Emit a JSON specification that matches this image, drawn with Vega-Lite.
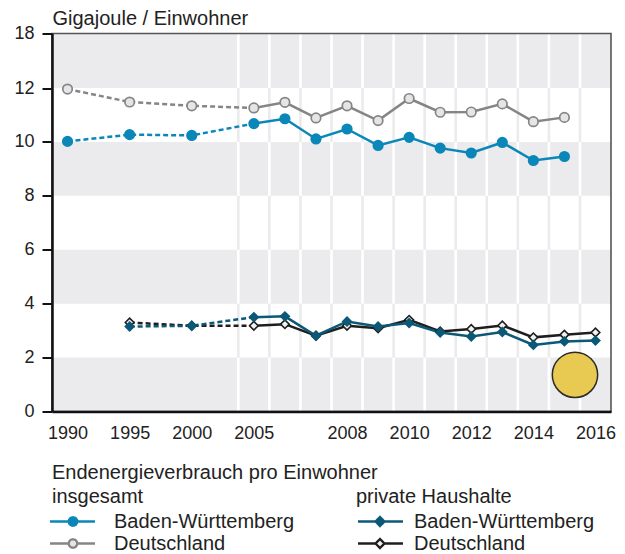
{
  "$schema": "https://vega.github.io/schema/vega-lite/v6.json",
  "width": 559,
  "height": 378,
  "autosize": "none",
  "padding": {"left": 52, "top": 33.5, "right": 14, "bottom": 142.5},
  "background": "white",
  "config": {
    "font": "Liberation Sans",
    "view": {"stroke": null}
  },
  "datasets": {
    "reihen": [
      {"jahr": 1990, "wert": 10.02, "gebiet": "Baden-Württemberg", "bereich": "insgesamt"},
      {"jahr": 1995, "wert": 10.27, "gebiet": "Baden-Württemberg", "bereich": "insgesamt"},
      {"jahr": 2000, "wert": 10.24, "gebiet": "Baden-Württemberg", "bereich": "insgesamt"},
      {"jahr": 2005, "wert": 10.68, "gebiet": "Baden-Württemberg", "bereich": "insgesamt"},
      {"jahr": 2006, "wert": 10.86, "gebiet": "Baden-Württemberg", "bereich": "insgesamt"},
      {"jahr": 2007, "wert": 10.11, "gebiet": "Baden-Württemberg", "bereich": "insgesamt"},
      {"jahr": 2008, "wert": 10.48, "gebiet": "Baden-Württemberg", "bereich": "insgesamt"},
      {"jahr": 2009, "wert": 9.87, "gebiet": "Baden-Württemberg", "bereich": "insgesamt"},
      {"jahr": 2010, "wert": 10.17, "gebiet": "Baden-Württemberg", "bereich": "insgesamt"},
      {"jahr": 2011, "wert": 9.77, "gebiet": "Baden-Württemberg", "bereich": "insgesamt"},
      {"jahr": 2012, "wert": 9.59, "gebiet": "Baden-Württemberg", "bereich": "insgesamt"},
      {"jahr": 2013, "wert": 9.98, "gebiet": "Baden-Württemberg", "bereich": "insgesamt"},
      {"jahr": 2014, "wert": 9.31, "gebiet": "Baden-Württemberg", "bereich": "insgesamt"},
      {"jahr": 2015, "wert": 9.46, "gebiet": "Baden-Württemberg", "bereich": "insgesamt"},
      {"jahr": 1990, "wert": 11.96, "gebiet": "Deutschland", "bereich": "insgesamt"},
      {"jahr": 1995, "wert": 11.48, "gebiet": "Deutschland", "bereich": "insgesamt"},
      {"jahr": 2000, "wert": 11.34, "gebiet": "Deutschland", "bereich": "insgesamt"},
      {"jahr": 2005, "wert": 11.26, "gebiet": "Deutschland", "bereich": "insgesamt"},
      {"jahr": 2006, "wert": 11.47, "gebiet": "Deutschland", "bereich": "insgesamt"},
      {"jahr": 2007, "wert": 10.89, "gebiet": "Deutschland", "bereich": "insgesamt"},
      {"jahr": 2008, "wert": 11.34, "gebiet": "Deutschland", "bereich": "insgesamt"},
      {"jahr": 2009, "wert": 10.79, "gebiet": "Deutschland", "bereich": "insgesamt"},
      {"jahr": 2010, "wert": 11.61, "gebiet": "Deutschland", "bereich": "insgesamt"},
      {"jahr": 2011, "wert": 11.10, "gebiet": "Deutschland", "bereich": "insgesamt"},
      {"jahr": 2012, "wert": 11.11, "gebiet": "Deutschland", "bereich": "insgesamt"},
      {"jahr": 2013, "wert": 11.41, "gebiet": "Deutschland", "bereich": "insgesamt"},
      {"jahr": 2014, "wert": 10.75, "gebiet": "Deutschland", "bereich": "insgesamt"},
      {"jahr": 2015, "wert": 10.91, "gebiet": "Deutschland", "bereich": "insgesamt"},
      {"jahr": 1995, "wert": 3.30, "gebiet": "Deutschland", "bereich": "private Haushalte"},
      {"jahr": 2000, "wert": 3.18, "gebiet": "Deutschland", "bereich": "private Haushalte"},
      {"jahr": 2005, "wert": 3.18, "gebiet": "Deutschland", "bereich": "private Haushalte"},
      {"jahr": 2006, "wert": 3.24, "gebiet": "Deutschland", "bereich": "private Haushalte"},
      {"jahr": 2007, "wert": 2.81, "gebiet": "Deutschland", "bereich": "private Haushalte"},
      {"jahr": 2008, "wert": 3.18, "gebiet": "Deutschland", "bereich": "private Haushalte"},
      {"jahr": 2009, "wert": 3.09, "gebiet": "Deutschland", "bereich": "private Haushalte"},
      {"jahr": 2010, "wert": 3.40, "gebiet": "Deutschland", "bereich": "private Haushalte"},
      {"jahr": 2011, "wert": 2.97, "gebiet": "Deutschland", "bereich": "private Haushalte"},
      {"jahr": 2012, "wert": 3.06, "gebiet": "Deutschland", "bereich": "private Haushalte"},
      {"jahr": 2013, "wert": 3.19, "gebiet": "Deutschland", "bereich": "private Haushalte"},
      {"jahr": 2014, "wert": 2.75, "gebiet": "Deutschland", "bereich": "private Haushalte"},
      {"jahr": 2015, "wert": 2.85, "gebiet": "Deutschland", "bereich": "private Haushalte"},
      {"jahr": 2016, "wert": 2.93, "gebiet": "Deutschland", "bereich": "private Haushalte"},
      {"jahr": 1995, "wert": 3.15, "gebiet": "Baden-Württemberg", "bereich": "private Haushalte"},
      {"jahr": 2000, "wert": 3.18, "gebiet": "Baden-Württemberg", "bereich": "private Haushalte"},
      {"jahr": 2005, "wert": 3.50, "gebiet": "Baden-Württemberg", "bereich": "private Haushalte"},
      {"jahr": 2006, "wert": 3.53, "gebiet": "Baden-Württemberg", "bereich": "private Haushalte"},
      {"jahr": 2007, "wert": 2.81, "gebiet": "Baden-Württemberg", "bereich": "private Haushalte"},
      {"jahr": 2008, "wert": 3.34, "gebiet": "Baden-Württemberg", "bereich": "private Haushalte"},
      {"jahr": 2009, "wert": 3.15, "gebiet": "Baden-Württemberg", "bereich": "private Haushalte"},
      {"jahr": 2010, "wert": 3.28, "gebiet": "Baden-Württemberg", "bereich": "private Haushalte"},
      {"jahr": 2011, "wert": 2.93, "gebiet": "Baden-Württemberg", "bereich": "private Haushalte"},
      {"jahr": 2012, "wert": 2.78, "gebiet": "Baden-Württemberg", "bereich": "private Haushalte"},
      {"jahr": 2013, "wert": 2.95, "gebiet": "Baden-Württemberg", "bereich": "private Haushalte"},
      {"jahr": 2014, "wert": 2.47, "gebiet": "Baden-Württemberg", "bereich": "private Haushalte"},
      {"jahr": 2015, "wert": 2.60, "gebiet": "Baden-Württemberg", "bereich": "private Haushalte"},
      {"jahr": 2016, "wert": 2.63, "gebiet": "Baden-Württemberg", "bereich": "private Haushalte"}
    ],
    "baender": [
      {"von": 0, "bis": 2},
      {"von": 4, "bis": 6},
      {"von": 8, "bis": 10},
      {"von": 12, "bis": 18}
    ],
    "raster": [
      {"jahr": 2004.5}, {"jahr": 2005.5}, {"jahr": 2006.5}, {"jahr": 2007.5},
      {"jahr": 2008.5}, {"jahr": 2009.5}, {"jahr": 2010.5}, {"jahr": 2011.5},
      {"jahr": 2012.5}, {"jahr": 2013.5}, {"jahr": 2014.5}, {"jahr": 2015.5}
    ]
  },
  "data": {"name": "reihen"},
  "layer": [
    {
      "data": {"name": "baender"},
      "mark": {"type": "rect", "color": "#ebebed"},
      "encoding": {
        "x": {
          "datum": 1988.75,
          "type": "quantitative",
          "scale": {"domain": [1988.75, 2000, 2004.5, 2016.5], "range": [0, 139.75, 186.33, 559], "nice": false, "zero": false},
          "axis": {
            "values": [1990, 1995, 2000, 2005, 2008, 2010, 2012, 2014, 2016],
            "format": "d",
            "title": null,
            "grid": false,
            "ticks": false,
            "tickSize": 0,
            "domainColor": "#111111",
            "domainWidth": 2.5,
            "labelPadding": 13,
            "labelFontSize": 18,
            "labelColor": "#222222",
            "labelFlush": false,
            "zindex": 1
          }
        },
        "x2": {"datum": 2016.5},
        "y": {
          "field": "von",
          "type": "quantitative",
          "scale": {"domain": [0, 12, 18], "range": [378, 54.5, 0], "nice": false, "zero": false},
          "axis": {
            "values": [0, 2, 4, 6, 8, 10, 12, 18],
            "title": "Gigajoule / Einwohner",
            "titleAngle": 0,
            "titleAlign": "left",
            "titleBaseline": "alphabetic",
            "titleX": 0,
            "titleY": -9.5,
            "titleFontSize": 20,
            "titleFontWeight": "normal",
            "titleColor": "#222222",
            "grid": false,
            "domainColor": "#111111",
            "domainWidth": 2.5,
            "tickColor": "#111111",
            "tickWidth": 2,
            "tickSize": 10,
            "labelPadding": 8,
            "labelFontSize": 18,
            "labelColor": "#222222",
            "zindex": 1
          }
        },
        "y2": {"field": "bis"}
      }
    },
    {
      "data": {"name": "raster"},
      "mark": {"type": "rule", "color": "#ffffff", "strokeWidth": 2.6},
      "encoding": {
        "x": {"field": "jahr", "type": "quantitative"},
        "y": {"datum": 0, "type": "quantitative"},
        "y2": {"datum": 18}
      }
    },
    {
      "data": {"name": "raster"},
      "mark": {"type": "rule", "color": "#ebebed", "strokeWidth": 2.6},
      "encoding": {
        "x": {"field": "jahr", "type": "quantitative"},
        "y": {"datum": 2, "type": "quantitative"},
        "y2": {"datum": 4}
      }
    },
    {
      "data": {"name": "raster"},
      "mark": {"type": "rule", "color": "#ebebed", "strokeWidth": 2.6},
      "encoding": {
        "x": {"field": "jahr", "type": "quantitative"},
        "y": {"datum": 6, "type": "quantitative"},
        "y2": {"datum": 8}
      }
    },
    {
      "data": {"name": "raster"},
      "mark": {"type": "rule", "color": "#ebebed", "strokeWidth": 2.6},
      "encoding": {
        "x": {"field": "jahr", "type": "quantitative"},
        "y": {"datum": 10, "type": "quantitative"},
        "y2": {"datum": 12}
      }
    },
    {
      "data": {"values": [{}]},
      "mark": {"type": "rect", "fill": "transparent", "stroke": "#555555", "strokeWidth": 1.6},
      "encoding": {
        "x": {"datum": 1988.75, "type": "quantitative"},
        "x2": {"datum": 2016.5},
        "y": {"datum": 0, "type": "quantitative"},
        "y2": {"datum": 18}
      }
    },
    {
      "transform": [{"filter": "datum.bereich == 'insgesamt'"}],
      "encoding": {
        "x": {"field": "jahr", "type": "quantitative"},
        "y": {"field": "wert", "type": "quantitative"}
      },
      "layer": [
        {
          "transform": [{"filter": "datum.jahr >= 2005"}],
          "mark": {"type": "line", "strokeWidth": 2.5},
          "encoding": {
            "stroke": {
              "field": "gebiet",
              "type": "nominal",
              "scale": {"domain": ["Baden-Württemberg", "Deutschland"], "range": ["#0a87b8", "#858585"]},
              "legend": {
                "orient": "none",
                "legendX": 0,
                "legendY": 429,
                "direction": "vertical",
                "padding": 0,
                "title": ["Endenergieverbrauch pro Einwohner", "insgesamt"],
                "titleFontSize": 20,
                "titleFontWeight": "normal",
                "titleColor": "#222222",
                "titleLineHeight": 24,
                "titlePadding": 5,
                "titleLimit": 600,
                "symbolType": "M-2.67,0L1.5,0M3.38,0L7.33,0M1.5,0A0.94,0.94,0,1,1,3.38,0A0.94,0.94,0,1,1,1.5,0Z",
                "symbolSize": 81,
                "symbolStrokeWidth": 2.3,
                "labelFontSize": 20,
                "labelColor": "#222222",
                "labelOffset": 42,
                "labelLimit": 400,
                "rowPadding": 2,
                "encode": {
                  "symbols": {
                    "update": {
                      "fill": {"signal": "datum.value === 'Deutschland' ? '#e5e5e8' : '#0a87b8'"},
                      "opacity": {"value": 1},
                      "strokeDash": {"value": [1, 0]}
                    }
                  }
                }
              }
            }
          }
        },
        {
          "transform": [{"filter": "datum.jahr <= 2005"}],
          "mark": {"type": "line", "strokeWidth": 2.5, "strokeDash": [5, 3]},
          "encoding": {"stroke": {"field": "gebiet", "type": "nominal"}}
        },
        {
          "mark": {"type": "point", "shape": "circle", "size": 90, "strokeWidth": 1.7, "opacity": 1},
          "encoding": {
            "stroke": {"field": "gebiet", "type": "nominal"},
            "fill": {
              "field": "gebiet",
              "type": "nominal",
              "scale": {"domain": ["Baden-Württemberg", "Deutschland"], "range": ["#0a87b8", "#e5e5e8"]},
              "legend": null
            }
          }
        }
      ]
    },
    {
      "transform": [{"filter": "datum.bereich == 'private Haushalte'"}],
      "encoding": {
        "x": {"field": "jahr", "type": "quantitative"},
        "y": {"field": "wert", "type": "quantitative"}
      },
      "layer": [
        {
          "transform": [{"filter": "datum.jahr >= 2005"}],
          "mark": {"type": "line", "strokeWidth": 2.5},
          "encoding": {
            "stroke": {
              "field": "gebiet",
              "type": "nominal",
              "scale": {"domain": ["Baden-Württemberg", "Deutschland"], "range": ["#0b5877", "#1e1e1e"]},
              "legend": {
                "orient": "none",
                "legendX": 304,
                "legendY": 453,
                "direction": "vertical",
                "padding": 0,
                "title": "private Haushalte",
                "titleFontSize": 20,
                "titleFontWeight": "normal",
                "titleColor": "#222222",
                "titleLineHeight": 24,
                "titlePadding": 5,
                "titleLimit": 600,
                "symbolType": "M-1.78,0L2.11,0M4.11,0L8.22,0M2.11,0L3.11,-1L4.11,0L3.11,1Z",
                "symbolSize": 81,
                "symbolStrokeWidth": 2.3,
                "labelFontSize": 20,
                "labelColor": "#222222",
                "labelOffset": 38,
                "labelLimit": 400,
                "rowPadding": 2,
                "encode": {
                  "symbols": {
                    "update": {
                      "fill": {"signal": "datum.value === 'Deutschland' ? '#f2f2f2' : '#0b5877'"},
                      "opacity": {"value": 1},
                      "strokeDash": {"value": [1, 0]}
                    }
                  }
                }
              }
            }
          }
        },
        {
          "transform": [{"filter": "datum.jahr <= 2005"}],
          "mark": {"type": "line", "strokeWidth": 2.5, "strokeDash": [5, 3]},
          "encoding": {"stroke": {"field": "gebiet", "type": "nominal"}}
        },
        {
          "mark": {"type": "point", "shape": "diamond", "size": 75, "strokeWidth": 1.6, "opacity": 1},
          "encoding": {
            "stroke": {"field": "gebiet", "type": "nominal"},
            "fill": {
              "field": "gebiet",
              "type": "nominal",
              "scale": {"domain": ["Baden-Württemberg", "Deutschland"], "range": ["#0b5877", "#f2f2f2"]},
              "legend": null
            }
          }
        }
      ]
    },
    {
      "data": {"values": [{}]},
      "mark": {"type": "point", "shape": "circle", "size": 2060, "fill": "#e8c952", "stroke": "#2a2a2a", "strokeWidth": 1.5, "opacity": 1},
      "encoding": {
        "x": {"datum": 2015.34, "type": "quantitative"},
        "y": {"datum": 1.36, "type": "quantitative"}
      }
    }
  ],
  "resolve": {"scale": {"stroke": "independent", "fill": "independent"}}
}
